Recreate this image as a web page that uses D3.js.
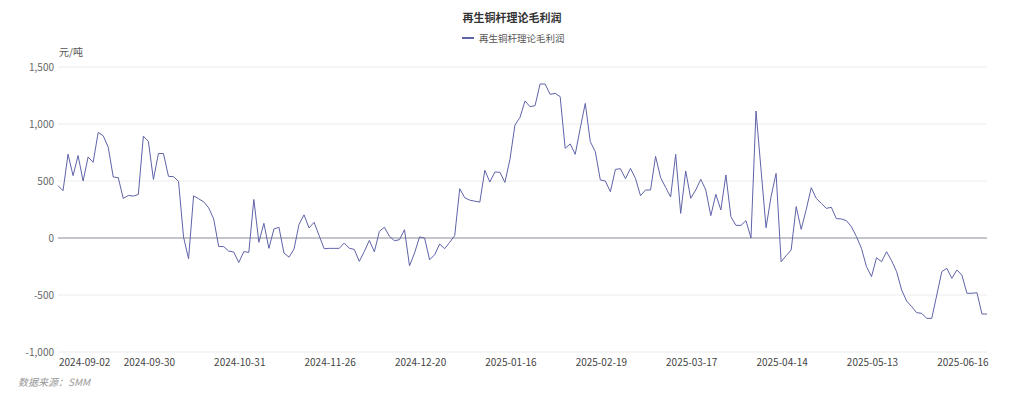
<!DOCTYPE html>
<html>
<head>
<meta charset="utf-8">
<script src="https://cdn.jsdelivr.net/npm/d3@7"></script>
<style>
  body { margin: 0; background: #fff; }
  svg text { font-family: "Noto Sans CJK SC", "Noto Sans", sans-serif; }
</style>
</head>
<body>
<main></main>
<script>
// 再生铜杆理论毛利润, one value per trading day
const profit = [
  459, 415, 735, 547, 723, 500, 711, 664, 926, 897,
  797, 535, 529, 347, 373, 368, 382, 894, 847, 514,
  741, 741, 541, 538, 497, 9, -182, 370, 344, 318,
  265, 168, -74, -76, -115, -123, -215, -120, -126, 338,
  -38, 129, -91, 79, 94, -132, -168, -97, 120, 203,
  88, 138, 21, -94, -91, -91, -91, -44, -90, -100,
  -205, -118, -21, -121, 59, 94, 15, -24, -15, 73,
  -244, -132, 9, 0, -191, -147, -53, -94, -38, 21,
  432, 353, 332, 323, 315, 594, 491, 579, 576, 488,
  690, 991, 1058, 1202, 1152, 1161, 1351, 1351, 1260, 1269,
  1240, 787, 825, 734, 962, 1181, 845, 757, 509, 500,
  406, 602, 608, 520, 611, 523, 371, 421, 421, 716,
  530, 444, 360, 734, 216, 588, 348, 421, 515, 421,
  196, 383, 246, 553, 187, 111, 111, 152, 0, 1114,
  600, 90, 363, 567, -208, -155, -105, 275, 76, 250,
  441, 348, 304, 260, 269, 170, 167, 152, 99, 12,
  -91, -251, -339, -173, -208, -120, -199, -295, -456, -553,
  -602, -655, -661, -705, -705, -500, -295, -266, -354, -281,
  -325, -485, -485, -480, -667, -667
];

const tickIndex = [0, 18, 36, 54, 72, 90, 108, 126, 144, 162, 180];
const tickLabels = ["2024-09-02", "2024-09-30", "2024-10-31", "2024-11-26", "2024-12-20",
  "2025-01-16", "2025-02-19", "2025-03-17", "2025-04-14", "2025-05-13", "2025-06-16"];
const yTicks = [-1000, -500, 0, 500, 1000, 1500];

const title = "再生铜杆理论毛利润";
const lineColor = "#5f63a8";

const width = 1024, height = 399;
const plotLeft = 58, plotRight = 987, plotTop = 67, plotBottom = 352;

const svg = d3.select("main").append("svg").attr("width", width).attr("height", height);

let x = d3.scaleLinear().domain([0, profit.length - 1]).range([plotLeft, plotRight]);
let y = d3.scaleLinear().domain([-1000, 1500]).range([plotBottom, plotTop]);

// grid
svg.append("g")
   .selectAll("line")
   .data(yTicks.filter(d => d !== 0))
   .enter()
   .append("line")
   .attr("x1", plotLeft).attr("x2", plotRight)
   .attr("y1", d => y(d)).attr("y2", d => y(d))
   .attr("stroke", "#ececec")
   .attr("stroke-width", 1)

// y labels
svg.append("g")
   .selectAll("text")
   .data(yTicks)
   .enter()
   .append("text")
   .attr("x", plotLeft - 4)
   .attr("y", d => y(d) + 3.5)
   .attr("text-anchor", "end")
   .attr("font-size", "10px")
   .attr("fill", "#666")
   .text(d => d3.format(",")(d).replace("−", "-"))

// zero line
svg.append("line")
   .attr("x1", plotLeft).attr("x2", plotRight)
   .attr("y1", y(0)).attr("y2", y(0))
   .attr("stroke", "#8a8c99")
   .attr("stroke-width", 1)

// x labels
svg.append("g")
   .selectAll("text")
   .data(tickIndex)
   .enter()
   .append("text")
   .attr("x", d => x(d) + 1)
   .attr("y", 366)
   .attr("text-anchor", (d, i) => i === 0 ? "start" : "middle")
   .attr("font-size", "10px")
   .attr("fill", "#444")
   .text((d, i) => tickLabels[i])

// line
let line = d3.line().x((d, i) => x(i)).y(d => y(d));
svg.append("path")
   .datum(profit)
   .attr("d", line)
   .attr("fill", "none")
   .attr("stroke", lineColor)
   .attr("stroke-width", 1)
   .attr("stroke-linejoin", "round")

// title + legend
svg.append("text")
   .attr("x", 512).attr("y", 22)
   .attr("text-anchor", "middle")
   .attr("font-size", "11px")
   .attr("font-weight", "bold")
   .attr("fill", "#333")
   .text(title)

svg.append("line")
   .attr("x1", 462).attr("x2", 474)
   .attr("y1", 38).attr("y2", 38)
   .attr("stroke", lineColor)
   .attr("stroke-width", 2)

svg.append("text")
   .attr("x", 479).attr("y", 41.5)
   .attr("font-size", "9.5px")
   .attr("fill", "#555")
   .text(title)

svg.append("text")
   .attr("x", 59).attr("y", 56)
   .attr("font-size", "10px")
   .attr("fill", "#555")
   .text("元/吨")

svg.append("text")
   .attr("x", 18).attr("y", 386)
   .attr("font-size", "10px")
   .attr("font-style", "italic")
   .attr("fill", "#999")
   .text("数据来源：SMM")
</script>
</body>
</html>
